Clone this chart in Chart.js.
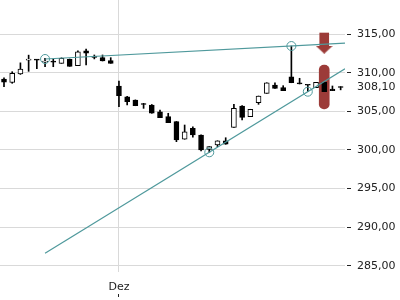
<!DOCTYPE html>
<html>
<head>
<meta charset="utf-8">
<script src="https://cdn.jsdelivr.net/npm/chart.js@4.4.1/dist/chart.umd.min.js"></script>
<style>
  html, body { margin: 0; padding: 0; background: #fff; }
  #wrap { width: 400px; height: 300px; }
</style>
</head>
<body>
<div id="wrap"><canvas id="chart"></canvas></div>
<script>
// one entry per candle, the month it belongs to (first "Dez" gets the axis label)
const months = [
	"Nov", "Nov", "Nov", "Nov", "Nov", "Nov", "Nov", "Nov", "Nov", "Nov", "Nov", "Nov", "Nov", "Nov",
	"Dez", "Dez", "Dez", "Dez", "Dez", "Dez", "Dez", "Dez", "Dez", "Dez", "Dez", "Dez", "Dez", "Dez",
	"Dez", "Dez", "Dez", "Dez", "Dez", "Dez", "Dez", "Dez", "Dez", "Dez", "Dez", "Dez", "Dez", "Dez",
];

const opens = [
	309.20, 308.75, 309.85, 311.65, 311.70, 311.40, 311.45, 311.24, 311.75, 310.93, 312.87, 312.05, 311.97, 311.58,
	308.30, 306.91, 306.48, 305.95, 305.83, 304.96, 304.32, 303.67, 301.39, 302.81, 301.94, 300.09, 300.65, 301.20,
	302.94, 305.70, 304.32, 306.13, 307.35, 308.43, 308.08, 309.50, 308.72, 308.45, 308.08, 308.78, 307.91, 308.22,
];
const highs = [
	309.35, 310.15, 311.30, 312.30, 311.72, 311.88, 311.80, 311.95, 311.80, 312.87, 313.09, 312.32, 312.32, 311.97,
	308.95, 306.95, 306.50, 306.05, 305.90, 305.19, 304.76, 303.70, 303.24, 303.02, 301.97, 300.43, 301.20, 301.59,
	305.92, 305.75, 305.28, 307.00, 308.72, 308.72, 308.34, 313.48, 309.30, 308.45, 308.78, 308.78, 308.30, 308.22,
];
const lows = [
	308.20, 308.65, 309.80, 310.20, 310.55, 310.80, 310.80, 311.24, 310.85, 310.93, 311.02, 311.81, 311.54, 311.24,
	305.61, 305.83, 305.74, 305.40, 304.76, 304.19, 303.54, 301.08, 301.39, 301.65, 299.87, 299.70, 300.43, 300.74,
	302.94, 303.89, 304.32, 305.92, 307.35, 308.00, 307.69, 308.72, 308.56, 307.56, 308.08, 307.56, 307.69, 307.80,
];
const closes = [
	308.80, 309.95, 310.50, 311.70, 311.65, 311.48, 311.40, 311.89, 310.85, 312.74, 312.54, 312.00, 311.54, 311.24,
	307.04, 306.26, 305.74, 305.90, 304.76, 304.19, 303.54, 301.30, 302.37, 301.94, 300.00, 300.43, 301.20, 300.74,
	305.41, 304.24, 305.28, 307.00, 308.72, 308.00, 307.69, 308.72, 308.56, 308.40, 308.78, 307.56, 307.69, 308.10,
];

const yTicks = [285, 290, 295, 300, 305, 310, 315];

// trend lines, [candle index, price] at each end
const upperTrend = [[5, 311.80], [41.53, 313.85]];
const lowerTrend = [[5, 286.60], [41.53, 310.53]];
// the touch points circled on the chart
const touchIdx = [5, 35, 25, 37];
const touchPrice = [311.80, 313.48, 299.70, 307.56];

// sell signal on candle 39: arrow above it, bar through it
const signalIdx = 39;
const arrowShaft = [313.40, 315.17];
const arrowHead = 313.00;
const signalBar = [305.32, 311.02];

const X_MIN = -0.487, X_MAX = 41.53;
const Y_MIN = 284.18, Y_MAX = 319.45;

const TEAL = "#4f999c";
const RED = "#9c3b38";
const GRID = "#d9d9d9";
const INK = "#222222";
const FONT = { family: "DejaVu Sans", size: 11 };

const lastClose = closes[closes.length - 1];
const monthStarts = months.map((m, i) => (i > 0 && m !== months[i - 1] ? i : -1)).filter((i) => i >= 0);

// flat down-pointing arrow head, used as a point style
function make_head() {
	const c = document.createElement("canvas");
	c.width = 17;
	c.height = 8;
	const g = c.getContext("2d");
	g.fillStyle = RED;
	g.beginPath();
	g.moveTo(0, 0);
	g.lineTo(17, 0);
	g.lineTo(8.5, 8);
	g.closePath();
	g.fill();
	return c;
}

const up = closes.map((c, i) => c >= opens[i]);

new Chart(document.getElementById("chart"), {
	data: {
		datasets: [
			{
				type: "line",
				data: upperTrend.map((p) => ({ x: p[0], y: p[1] })),
				borderColor: TEAL,
				borderWidth: 1.2,
				pointRadius: 0,
				order: 0,
			},
			{
				type: "line",
				data: lowerTrend.map((p) => ({ x: p[0], y: p[1] })),
				borderColor: TEAL,
				borderWidth: 1.2,
				pointRadius: 0,
				order: 0,
			},
			{
				type: "line",
				data: touchIdx.map((x, i) => ({ x: x, y: touchPrice[i] })),
				showLine: false,
				pointStyle: "circle",
				pointRadius: 4.5,
				pointBorderWidth: 1,
				pointBorderColor: TEAL,
				pointBackgroundColor: "rgba(0,0,0,0)",
				order: 0,
			},
			{
				type: "line",
				data: [{ x: signalIdx, y: arrowHead }],
				showLine: false,
				pointStyle: make_head(),
				pointRadius: 5,
				order: 1,
			},
			{
				type: "bar",
				data: months.map((m, i) => ({ x: i, y: [opens[i], closes[i]] })),
				backgroundColor: up.map((u) => (u ? "#ffffff" : "#000000")),
				borderColor: "#000000",
				borderWidth: 1,
				borderSkipped: false,
				barThickness: 5,
				minBarLength: 1,
				grouped: false,
				order: 2,
			},
			{
				type: "bar",
				data: months.map((m, i) => ({ x: i, y: [lows[i], highs[i]] })),
				backgroundColor: "#000000",
				barThickness: 1,
				grouped: false,
				order: 3,
			},
			{
				type: "bar",
				data: [{ x: signalIdx, y: arrowShaft }],
				backgroundColor: RED,
				barThickness: 9,
				borderSkipped: false,
				grouped: false,
				order: 4,
			},
			{
				type: "bar",
				data: [{ x: signalIdx, y: signalBar }],
				backgroundColor: RED,
				barThickness: 10,
				borderRadius: 5,
				borderSkipped: false,
				grouped: false,
				order: 4,
			},
		],
	},
	options: {
		responsive: true,
		maintainAspectRatio: false,
		animation: false,
		layout: { padding: 0, autoPadding: false },
		plugins: { legend: { display: false }, tooltip: { enabled: false } },
		scales: {
			x: {
				type: "linear",
				offset: false,
				min: X_MIN,
				max: X_MAX,
				afterBuildTicks: (s) => {
					s.ticks = monthStarts.map((i) => ({ value: i }));
				},
				ticks: { callback: (v) => months[v], font: FONT, color: INK, padding: 9, maxRotation: 0, autoSkip: false },
				grid: { color: GRID, drawTicks: false, offset: false },
				border: { display: false },
				afterFit: (s) => {
					s.height = 22;
					s.paddingLeft = 0;
					s.paddingRight = 0;
				},
			},
			x2: {
				type: "linear",
				position: "bottom",
				display: true,
				offset: false,
				weight: 1,
				min: X_MIN,
				max: X_MAX,
				afterBuildTicks: (s) => {
					s.ticks = monthStarts.map((i) => ({ value: i }));
				},
				ticks: { display: false },
				grid: { drawOnChartArea: false, tickLength: 3, tickColor: INK, offset: false },
				border: { display: false },
				afterFit: (s) => {
					s.height = 6;
					s.paddingLeft = 0;
					s.paddingRight = 0;
				},
			},
			y: {
				position: "right",
				min: Y_MIN,
				max: Y_MAX,
				afterBuildTicks: (s) => {
					s.ticks = yTicks.concat([lastClose]).map((v) => ({ value: v }));
				},
				ticks: {
					callback: (v) => v.toFixed(2).replace(".", ","),
					font: FONT,
					color: INK,
					padding: 6,
				},
				grid: {
					color: (c) => (c.tick && c.tick.value === lastClose ? "rgba(0,0,0,0)" : GRID),
					tickColor: (c) => (c.tick && c.tick.value === lastClose ? "rgba(0,0,0,0)" : INK),
					tickLength: 6,
					tickBorderDash: [0, 2, 4, 0],
				},
				border: { display: false },
				afterFit: (s) => {
					s.width = 55;
					s.paddingTop = 0;
					s.paddingBottom = 0;
				},
			},
		},
	},
});
</script>
</body>
</html>
